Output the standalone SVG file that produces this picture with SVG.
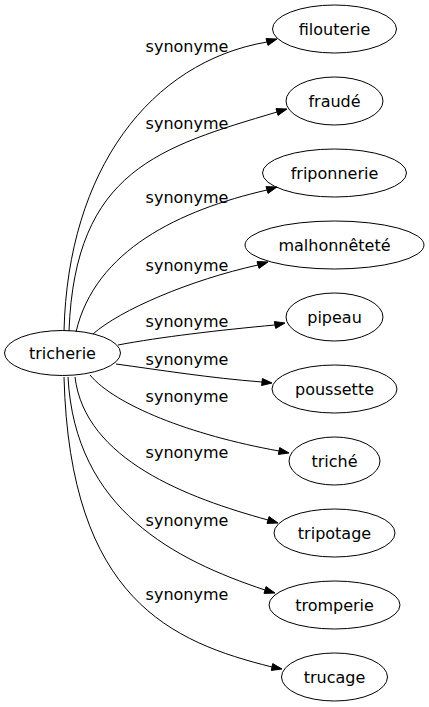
<svg xmlns="http://www.w3.org/2000/svg" width="429" height="707" viewBox="0 0 429 707">
<style>
.n ellipse{fill:none;stroke:#000;stroke-width:1}
text{font-family:"DejaVu Sans",sans-serif;font-size:16px;fill:#000;text-anchor:middle}
.e path{fill:none;stroke:#000;stroke-width:1}
.e polygon{fill:#000;stroke:#000;stroke-width:1}
</style>
<rect width="429" height="707" fill="#fff"/>
<g class="e" id="edges">
<path d="M64,331 C68,170 150,62 267,42"/><polygon points="268,45.4 277,39 266,38.6"/>
<text x="187" y="52">synonyme</text>
<path d="M69,331 C75,170 160,147 277,112"/><polygon points="278,115.4 287,109 276,108.6"/>
<text x="187" y="129">synonyme</text>
<path d="M76,332 C95,250 180,210 267,190"/><polygon points="268,193.4 277,187 266,186.6"/>
<text x="187" y="203">synonyme</text>
<path d="M93,334 C120,310 190,280 258,265"/><polygon points="259,268.4 268,262 257,261.6"/>
<text x="187" y="271">synonyme</text>
<path d="M118,345 C160,337 220,330 275,325"/><polygon points="275.7,328.4 285,323 274.3,321.6"/>
<text x="187" y="327">synonyme</text>
<path d="M116,364 C160,370 210,378 262,382"/><polygon points="261.6,385.5 272,383 262.4,378.5"/>
<text x="187" y="365">synonyme</text>
<path d="M90,375 C115,405 190,435 279,451"/><polygon points="278.3,454.4 289,453 279.7,447.6"/>
<text x="187" y="402">synonyme</text>
<path d="M75,377 C85,460 188,498 268,520"/><polygon points="267,523.4 278,523 269,516.6"/>
<text x="187" y="458">synonyme</text>
<path d="M68,377 C75,510 175,560 265,590"/><polygon points="264,593.4 275,593 266,586.6"/>
<text x="187" y="526">synonyme</text>
<path d="M64,377 C70,600 172,642 272,667"/><polygon points="271.3,670.4 282,669 272.7,663.6"/>
<text x="187" y="600">synonyme</text>
</g>
<g class="n" id="tricherie"><ellipse cx="62.5" cy="353" rx="58" ry="22.5"/><text x="62.5" y="359">tricherie</text></g>
<g class="n" id="filouterie"><ellipse cx="334.5" cy="29" rx="62" ry="24"/><text x="334.5" y="35">filouterie</text></g>
<g class="n" id="fraude"><ellipse cx="334.5" cy="101" rx="48.5" ry="24"/><text x="334.5" y="107">fraudé</text></g>
<g class="n" id="friponnerie"><ellipse cx="334.5" cy="173" rx="72" ry="24"/><text x="334.5" y="179">friponnerie</text></g>
<g class="n" id="malhonnetete"><ellipse cx="334.5" cy="245" rx="89.5" ry="24"/><text x="334.5" y="251">malhonnêteté</text></g>
<g class="n" id="pipeau"><ellipse cx="334.5" cy="317" rx="48.5" ry="24"/><text x="334.5" y="323">pipeau</text></g>
<g class="n" id="poussette"><ellipse cx="334.5" cy="389" rx="62.5" ry="24"/><text x="334.5" y="395">poussette</text></g>
<g class="n" id="triche"><ellipse cx="334.5" cy="461" rx="45.5" ry="24"/><text x="334.5" y="467">triché</text></g>
<g class="n" id="tripotage"><ellipse cx="334.5" cy="533" rx="60.5" ry="24"/><text x="334.5" y="539">tripotage</text></g>
<g class="n" id="tromperie"><ellipse cx="334.5" cy="605" rx="65.5" ry="24"/><text x="334.5" y="611">tromperie</text></g>
<g class="n" id="trucage"><ellipse cx="334.5" cy="677" rx="53" ry="24"/><text x="334.5" y="683">trucage</text></g>
</svg>
